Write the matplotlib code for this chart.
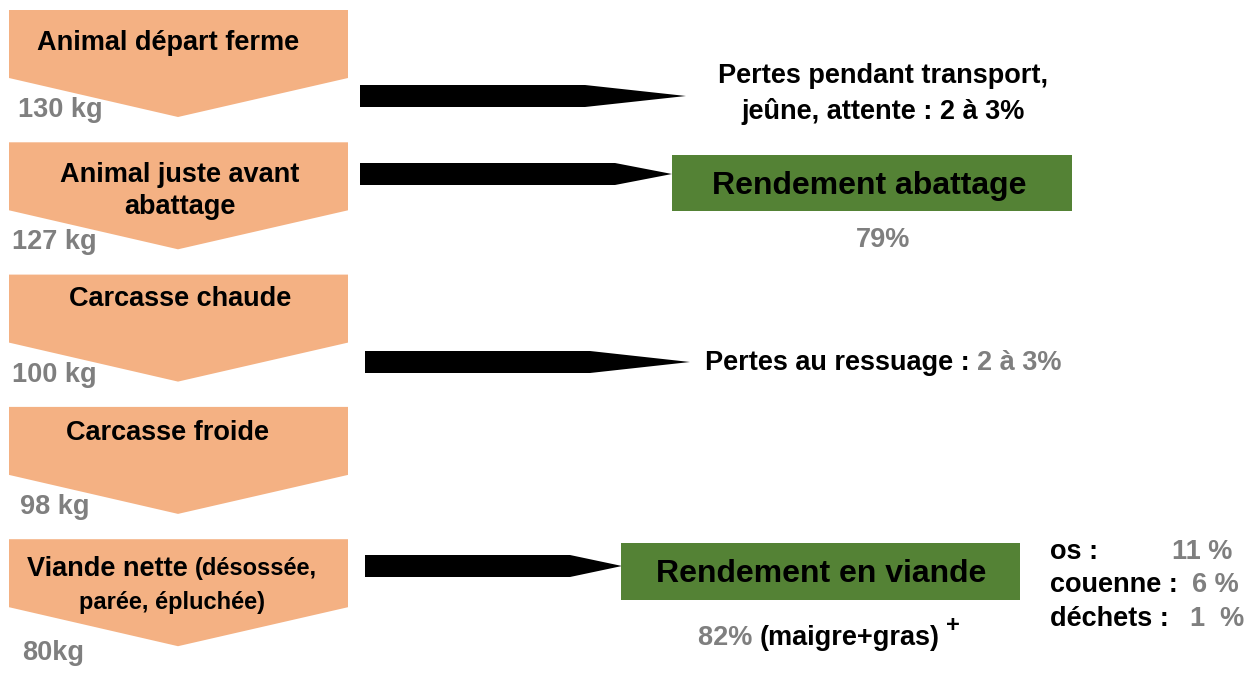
import matplotlib.pyplot as plt
from matplotlib.patches import Polygon, Rectangle

plt.rcParams['font.family'] = ['Liberation Sans', 'DejaVu Sans']

steps = ["Animal départ ferme", "Animal juste avant\nabattage", "Carcasse chaude",
         "Carcasse froide", "Viande nette"]
weights = ["130 kg", "127 kg", "100 kg", "98 kg", "80kg"]
weight_x = [18, 12, 12, 20, 22]
losses_transport = "Pertes pendant transport,\njeûne, attente : 2 à 3%"
loss_ressuage = "2 à 3%"
rdt_abattage = "79%"
rdt_viande = "82%"
sous_produits = [("os :", "11 %"), ("couenne :", "6 %"), ("déchets :", "1  %")]

ORANGE = "#F4B183"
GREEN = "#548235"
GREY = "#7F7F7F"
FS = 19.5

fig = plt.figure(figsize=(12.5, 6.76), dpi=100)
ax = fig.add_axes([0, 0, 1, 1])
ax.set_xlim(0, 1250)
ax.set_ylim(676, 0)
ax.axis('off')
r = fig.canvas.get_renderer()


def chain(x, y, parts, ha='left'):
    # parts: (text, color, size); drawn one after another on one line
    objs = [ax.text(x, y, s, color=c, fontsize=fs, fontweight='bold', va='center')
            for s, c, fs in parts]
    widths = []
    inv = ax.transData.inverted()
    for t in objs:
        bb = t.get_window_extent(renderer=r)
        p0 = inv.transform((bb.x0, bb.y0))
        p1 = inv.transform((bb.x1, bb.y0))
        widths.append(p1[0] - p0[0])
    start = x - sum(widths) / 2 if ha == 'center' else x
    for t, w in zip(objs, widths):
        t.set_x(start)
        start += w
    return start


# chevrons
tops = [10 + 132.3 * i for i in range(len(steps))]
for i, (lab, w) in enumerate(zip(steps, weights)):
    top = tops[i]
    pts = [(9, top), (348, top), (348, top + 68), (178, top + 107), (9, top + 68)]
    ax.add_patch(Polygon(pts, closed=True, fc=ORANGE, ec='none'))
    ax.text(weight_x[i], top + 100 + (14 if i == 4 else 0), w, color=GREY,
            fontsize=FS, fontweight='bold', va='center')

ax.text(168, 43, steps[0], fontsize=FS, fontweight='bold', ha='center', va='center')
ax.text(180, 191, steps[1], fontsize=FS, fontweight='bold', ha='center', va='center',
        linespacing=1.35)
ax.text(180, 299, steps[2], fontsize=FS, fontweight='bold', ha='center', va='center')
ax.text(168, 433, steps[3], fontsize=FS, fontweight='bold', ha='center', va='center')
chain(172, 569, [(steps[4] + " ", 'black', FS), ("(désossée,", 'black', 17)], ha='center')
ax.text(172, 602, "parée, épluchée)", fontsize=17, fontweight='bold', ha='center', va='center')

# black arrows
arrows = [(360, 585, 686, 96), (360, 615, 672, 174), (365, 590, 690, 362), (365, 570, 622, 566)]
for x0, x1, tip, yc in arrows:
    pts = [(x0, yc - 11), (x1, yc - 11), (tip, yc), (x1, yc + 11), (x0, yc + 11)]
    ax.add_patch(Polygon(pts, closed=True, fc='black', ec='none'))

# right side texts
ax.text(883, 94, losses_transport, fontsize=FS, fontweight='bold', ha='center', va='center',
        linespacing=1.4)

ax.add_patch(Rectangle((672, 155), 400, 56, fc=GREEN, ec='none'))
ax.text(869, 186, "Rendement abattage", fontsize=23, fontweight='bold', ha='center', va='center')
ax.text(883, 240, rdt_abattage, color=GREY, fontsize=FS, fontweight='bold', ha='center', va='center')

chain(705, 363, [("Pertes au ressuage : ", 'black', FS), (loss_ressuage, GREY, FS)])

ax.add_patch(Rectangle((621, 543), 399, 57, fc=GREEN, ec='none'))
ax.text(821, 574, "Rendement en viande", fontsize=23, fontweight='bold', ha='center', va='center')
end = chain(698, 638, [(rdt_viande + " ", GREY, FS), ("(maigre+gras)", 'black', FS)])
ax.text(end + 6, 626, "+", fontsize=17, fontweight='bold', va='center')

for j, (k, v) in enumerate(sous_produits):
    y = 552 + 33.5 * j
    ax.text(1050, y, k, fontsize=FS, fontweight='bold', va='center')
ax.text(1232, 552, sous_produits[0][1], color=GREY, fontsize=FS, fontweight='bold', ha='right', va='center')
ax.text(1239, 585.5, sous_produits[1][1], color=GREY, fontsize=FS, fontweight='bold', ha='right', va='center')
ax.text(1244, 619, sous_produits[2][1], color=GREY, fontsize=FS, fontweight='bold', ha='right', va='center')

fig.savefig("out.png", dpi=100)
